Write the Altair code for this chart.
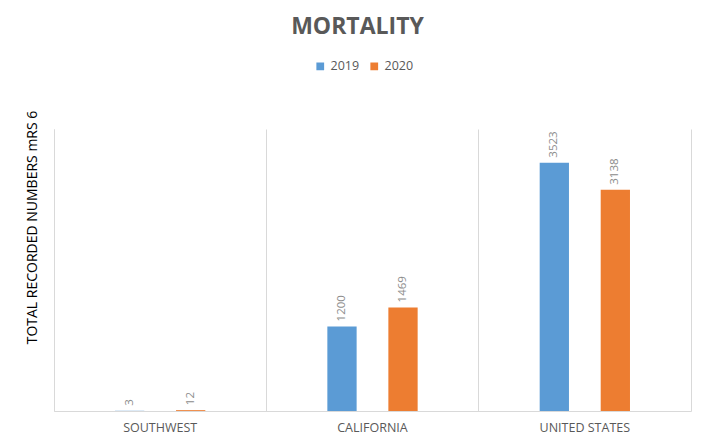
import altair as alt
import pandas as pd

regions = ["SOUTHWEST", "CALIFORNIA", "UNITED STATES"]
years = ["2019", "2020"]
v2019 = [3, 1200, 3523]
v2020 = [12, 1469, 3138]
colors = ["#5B9BD5", "#ED7D31"]

rows = []
for i, r in enumerate(regions):
    rows.append({"region": r, "year": "2019", "value": v2019[i]})
    rows.append({"region": r, "year": "2020", "value": v2020[i]})
df = pd.DataFrame(rows)

font = "Open Sans"
grid_col = "#d9d9d9"

x = alt.X(
    "region:N", sort=regions,
    scale=alt.Scale(paddingInner=0, paddingOuter=0),
    axis=alt.Axis(title=None, labelAngle=0, grid=True, bandPosition=0,
                  gridColor=grid_col, domainColor=grid_col, ticks=False,
                  labelColor="#595959", labelFontSize=12.5, labelPadding=10,
                  labelFont=font),
)
xo = alt.XOffset("year:N", sort=years,
                 scale=alt.Scale(paddingInner=0.52, paddingOuter=1))

y_left = alt.Y(
    "value:Q", scale=alt.Scale(domain=[0, 4000]),
    axis=alt.Axis(title="TOTAL RECORDED NUMBERS mRS 6", labels=False, ticks=False,
                  grid=False, domain=True, domainColor=grid_col,
                  titleColor="#000000", titleFontSize=14, titleFontWeight="normal",
                  titleFont=font, titleAngle=270, titleX=-22, titleY=98,
                  titleAlign="center", titleBaseline="middle"),
)
y_right = alt.Y(
    "value:Q", scale=alt.Scale(domain=[0, 4000]),
    axis=alt.Axis(title=None, orient="right", labels=False, ticks=False,
                  grid=False, domain=True, domainColor=grid_col),
)

color = alt.Color(
    "year:N", sort=years,
    scale=alt.Scale(domain=years, range=colors),
    legend=alt.Legend(title=None, orient="none", direction="horizontal",
                      legendX=260, legendY=-69, symbolType="square",
                      symbolSize=60, labelFontSize=12.5, labelColor="#595959",
                      labelFont=font, columnPadding=8, symbolStrokeWidth=0),
)

bars = alt.Chart(df).mark_bar().encode(x=x, xOffset=xo, y=y_left, color=color)

labels = alt.Chart(df).mark_text(
    angle=270, align="left", baseline="middle", dx=5, fontSize=11.5,
    color="#8c8c8c", font=font
).encode(x=x, xOffset=xo, y=y_right, text=alt.Text("value:Q"))

chart = alt.layer(bars, labels).resolve_axis(y="independent").properties(
    width=637, height=282,
    title=alt.TitleParams("MORTALITY", fontSize=23, fontWeight="bold",
                          color="#595959", font=font, anchor="middle", dx=-15,
                          offset=21),
    autosize=alt.AutoSizeParams(type="none"),
    padding={"left": 46, "top": 121, "right": 15, "bottom": 28},
).configure_view(stroke=None)

chart.save("out.html", embed_options={"renderer": "svg", "actions": False})
